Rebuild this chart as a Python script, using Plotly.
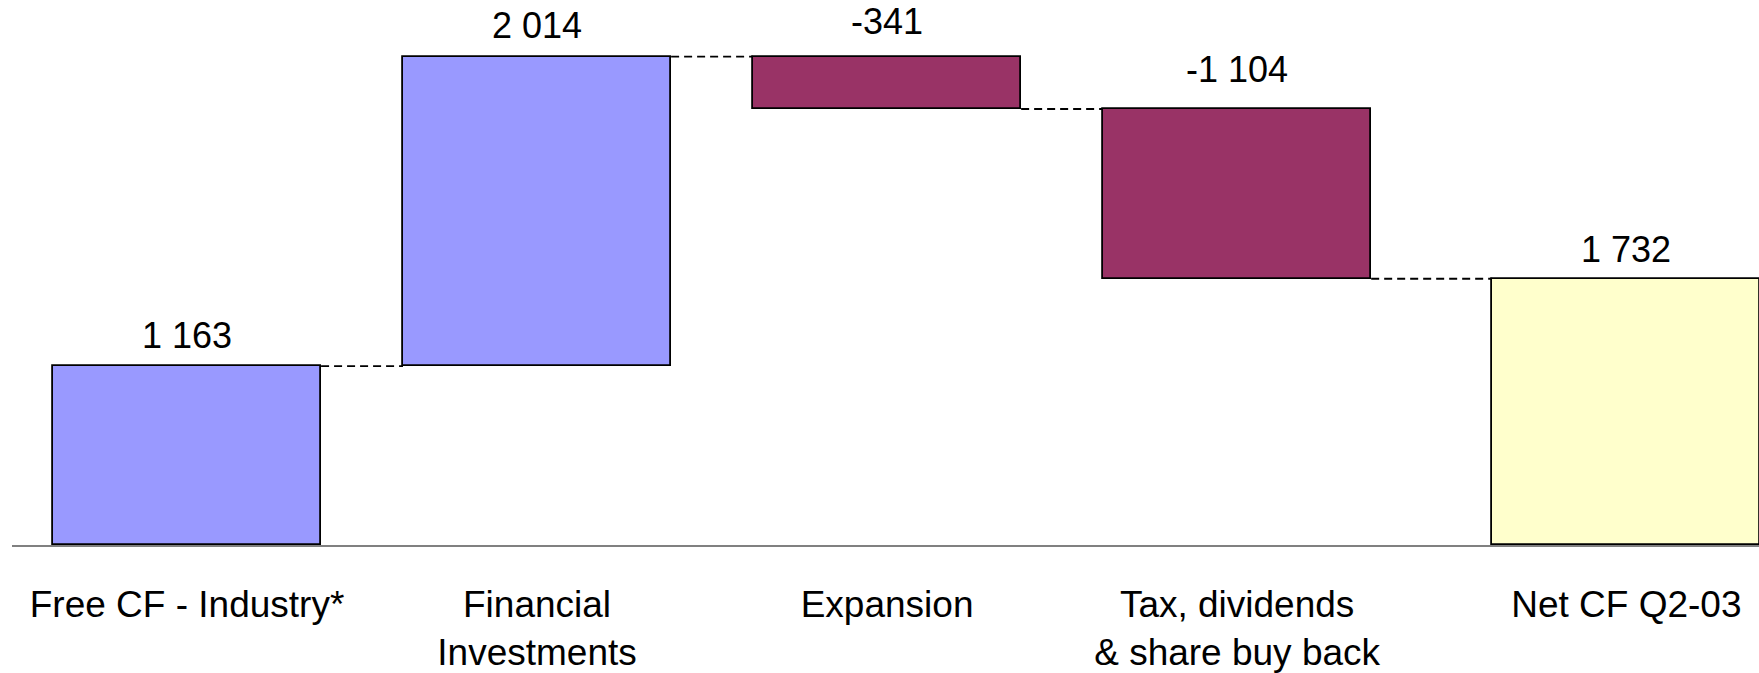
import plotly.graph_objects as go

# Cash-flow bridge: contributions and the resulting net total
categories = [
    "Free CF - Industry*",
    "Financial<br>Investments",
    "Expansion",
    "Tax, dividends<br>& share buy back",
    "Net CF Q2-03",
]
values = [1163, 2014, -341, -1104, 1732]
measures = ["relative", "relative", "relative", "relative", "total"]

COLOR_UP = "#9999FF"
COLOR_DOWN = "#993366"
COLOR_TOTAL = "#FFFFCC"
BAR_WIDTH = 0.766
TOTAL_GAP = 0.112  # extra space before the total bar
LABEL_LIFT = [31, 31, 35, 40, 29]  # px between bar top and label centre
FONT = "Liberation Sans, Arial, sans-serif"


def fmt(v):
    return f"{v:,}".replace(",", " ")


# Floating bar geometry from the running total
bases, heights, colors, levels, x_pos = [], [], [], [], []
running = 0
for i, (v, m) in enumerate(zip(values, measures)):
    if m == "total":
        base, h, running = 0, v, v
        colors.append(COLOR_TOTAL)
        x_pos.append(i + TOTAL_GAP)
    else:
        base = running if v >= 0 else running + v
        h = abs(v)
        running += v
        colors.append(COLOR_UP if v >= 0 else COLOR_DOWN)
        x_pos.append(i)
    bases.append(base)
    heights.append(h)
    levels.append(running)

fig = go.Figure(
    go.Bar(
        x=x_pos,
        y=heights,
        base=bases,
        width=BAR_WIDTH,
        marker=dict(color=colors, line=dict(color="black", width=1.8)),
        hoverinfo="skip",
    )
)

# Dashed connectors between consecutive bars
for i in range(len(values) - 1):
    fig.add_shape(
        type="line",
        xref="x", yref="y",
        x0=x_pos[i] + BAR_WIDTH / 2, x1=x_pos[i + 1] - BAR_WIDTH / 2,
        y0=levels[i], y1=levels[i],
        line=dict(color="black", width=1.8, dash="8px,5px"),
        layer="below",
    )

# Value labels above each bar
for xp, b, h, v, lift in zip(x_pos, bases, heights, values, LABEL_LIFT):
    fig.add_annotation(
        x=xp, y=b + h, xref="x", yref="y",
        text=fmt(v), showarrow=False,
        yanchor="middle", yshift=lift,
        font=dict(family=FONT, size=36, color="black"),
    )

fig.update_layout(
    width=1759, height=673,
    margin=dict(l=12, r=0, t=0, b=126),
    paper_bgcolor="white", plot_bgcolor="white",
    showlegend=False,
    font=dict(family=FONT, size=36, color="black"),
    bargap=0,
    xaxis=dict(
        range=[-0.5, 4.491],
        tickvals=x_pos, ticktext=categories,
        tickfont=dict(family=FONT, size=37, color="black"),
        ticks="", ticklabelstandoff=26,
        showline=True, linecolor="#808080", linewidth=1.5,
        showgrid=False, zeroline=False,
        layer="below traces",
        fixedrange=True,
    ),
    yaxis=dict(
        range=[0, 3545],
        visible=False, showgrid=False, zeroline=False,
        fixedrange=True,
    ),
)

fig.write_html("out.html")
